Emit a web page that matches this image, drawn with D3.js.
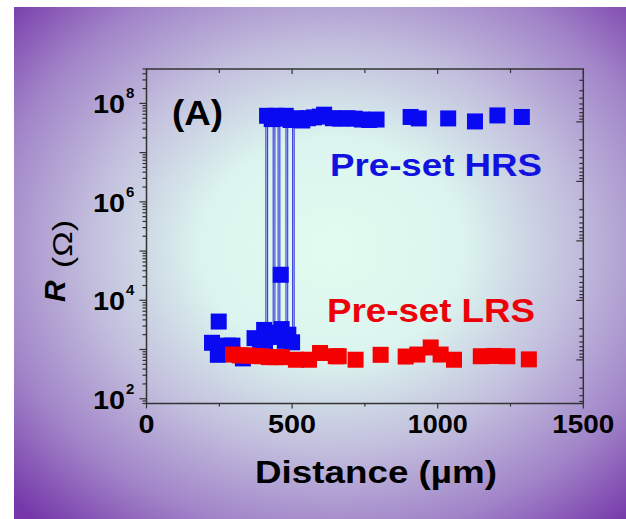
<!DOCTYPE html>
<html><head><meta charset="utf-8">
<script src="https://cdn.jsdelivr.net/npm/d3@7"></script>
<style>html,body{margin:0;padding:0;background:#fff;} svg{display:block;}</style>
</head><body>
<svg id="chart" width="626" height="519"></svg>
<script>
// ---- data (distance in µm, resistance in Ω) ----
const hrsDistance   = [414, 430, 445, 460, 478, 495, 515, 535, 555, 575, 595, 610, 640, 665, 690, 715, 740, 765, 790,
                       907, 935, 1036, 1128, 1205, 1289,
                       248, 225, 245, 280, 295, 331, 371, 390, 404, 407, 420, 440, 464, 475, 487, 500, 461];
const hrsResistance = [5.6e7, 4.8e7, 5.6e7, 4.9e7, 5.6e7, 4.6e7, 5.0e7, 4.5e7, 5.0e7, 5.2e7, 5.4e7, 5.9e7, 5.0e7, 4.9e7, 5.0e7, 4.9e7, 4.7e7, 4.6e7, 4.7e7,
                       5.3e7, 4.95e7, 4.95e7, 4.3e7, 5.7e7, 5.3e7,
                       3.7e3, 1.37e3, 7.8e2, 1.2e3, 1.2e3, 6.6e2, 1.7e3, 1.5e3, 2.5e3, 1.1e3, 2.2e3, 1.8e3, 2.6e3, 1.5e3, 2.0e3, 1.4e3, 3.3e4];
const lrsDistance   = [297, 320, 345, 370, 395, 420, 445, 465, 513, 558, 596, 650, 660, 718, 804, 890, 930, 976, 1010, 1056, 1148, 1193, 1239, 1313];
const lrsResistance = [7.9e2, 7.6e2, 7.6e2, 7.4e2, 7.3e2, 7.0e2, 7.0e2, 7.0e2, 6.2e2, 6.2e2, 8.5e2, 7.3e2, 7.3e2, 6.2e2, 7.8e2, 7.2e2, 7.9e2, 1.1e3, 7.9e2, 6.2e2, 7.3e2, 7.4e2, 7.3e2, 6.3e2];
// thin switching traces of the HRS series
const switchDistance = [410, 416, 435, 441, 452, 458, 479, 485, 502, 507];
const switchTop      = [5.5e7, 5.5e7, 5.0e7, 5.0e7, 5.5e7, 5.5e7, 5.0e7, 5.0e7, 5.0e7, 5.0e7];
const switchBottom   = [2.6e3, 2.6e3, 2.5e3, 2.5e3, 2.6e3, 2.6e3, 2.6e3, 2.6e3, 2.0e3, 2.0e3];

const xMajorTicks = [0, 500, 1000, 1500];
const xMinorTicks = [250, 750, 1250];
const xTickLabels = ["0", "500", "1000", "1500"];
const xLabelWidths = [16, 48, 60, 62];
const yLabelExponents = [2, 4, 6, 8];

const hrsColor = "#0a0af2", lrsColor = "#f40000";

// ---- setup ----
const svg = d3.select("#chart");
const defs = svg.append("defs");
const grad = defs.append("radialGradient").attr("id", "bg")
  .attr("cx", 0.52).attr("cy", 0.47).attr("r", 0.72).attr("fx", 0.52).attr("fy", 0.47);
[[0, "#e3fcf0"], [0.3, "#dbf4ee"], [0.55, "#c2bedd"], [0.78, "#a184c8"], [1, "#7537a9"]]
  .forEach(([o, c]) => grad.append("stop").attr("offset", o).attr("stop-color", c));

svg.append("rect").attr("x", 14).attr("y", 7).attr("width", 612).attr("height", 512).attr("fill", "url(#bg)");

const L = 146.5, R = 583.3, T = 69, B = 403.5;
const x = d3.scaleLinear().domain([0, 1500]).range([L, R]);
const y = d3.scaleLog().domain([80, 5e8]).range([B, T]);
// right-hand mirror axis (its own log tick spacing)
const yRight = d3.scaleLog().domain([Math.pow(10, -0.889), Math.pow(10, 4.733)]).range([T, B]);

const axisColor = "#333";
const font = "'Liberation Sans', Arial, sans-serif";

// ---- ticks ----
const tg = svg.append("g").attr("stroke", axisColor).attr("stroke-width", 1.2);
xMajorTicks.forEach(v => tg.append("line").attr("x1", x(v)).attr("x2", x(v)).attr("y1", B).attr("y2", B + 5));
xMinorTicks.forEach(v => tg.append("line").attr("x1", x(v)).attr("x2", x(v)).attr("y1", B).attr("y2", B + 3));
xMajorTicks.forEach(v => tg.append("line").attr("x1", x(v)).attr("x2", x(v)).attr("y1", T).attr("y2", T + 5));
xMinorTicks.forEach(v => tg.append("line").attr("x1", x(v)).attr("x2", x(v)).attr("y1", T).attr("y2", T + 4));
y.ticks(60).forEach(v => {
  const yy = y(v); if (yy < T - 0.5 || yy > B + 0.5) return;
  const m = Math.round(v / Math.pow(10, Math.floor(Math.log10(v) + 1e-9)));
  tg.append("line").attr("x1", L).attr("x2", L - (m === 1 ? 7 : 4)).attr("y1", yy).attr("y2", yy);
});
yRight.ticks(60).forEach(v => {
  const yy = yRight(v); if (yy < T - 0.5 || yy > B + 0.5) return;
  const m = Math.round(v / Math.pow(10, Math.floor(Math.log10(v) + 1e-9)));
  tg.append("line").attr("x1", R).attr("x2", R - (m === 1 ? 7 : 4)).attr("y1", yy).attr("y2", yy);
});

// ---- frame ----
svg.append("rect").attr("x", L).attr("y", T).attr("width", R - L).attr("height", B - T)
  .attr("fill", "none").attr("stroke", axisColor).attr("stroke-width", 1.5);

// ---- switching traces ----
const line = d3.line().x(d => x(d[0])).y(d => y(d[1]));
svg.append("g").selectAll("path").data(switchDistance.map((d, i) => [[d, switchTop[i]], [d, switchBottom[i]]]))
  .join("path").attr("d", line).attr("fill", "none").attr("stroke", "#2424dc").attr("stroke-width", 1);

// ---- markers ----
const S = 16;
svg.append("g").selectAll("rect").data(hrsDistance.map((d, i) => [d, hrsResistance[i]]))
  .join("rect").attr("x", d => x(d[0]) - S / 2).attr("y", d => y(d[1]) - S / 2)
  .attr("width", S).attr("height", S).attr("fill", hrsColor);
svg.append("g").selectAll("rect").data(lrsDistance.map((d, i) => [d, lrsResistance[i]]))
  .join("rect").attr("x", d => x(d[0]) - S / 2).attr("y", d => y(d[1]) - S / 2)
  .attr("width", S).attr("height", S).attr("fill", lrsColor);

// ---- tick labels ----
const lg = svg.append("g").attr("font-family", font).attr("font-weight", "bold").attr("fill", "#000");
xMajorTicks.forEach((v, i) => {
  lg.append("text").attr("x", x(v)).attr("y", 433).attr("text-anchor", "middle")
    .attr("font-size", 25).attr("textLength", xLabelWidths[i]).attr("lengthAdjust", "spacingAndGlyphs")
    .text(xTickLabels[i]);
});
yLabelExponents.forEach(e => {
  const yy = y(Math.pow(10, e));
  lg.append("text").attr("x", 93).attr("y", yy + 10).attr("font-size", 25)
    .attr("textLength", 32).attr("lengthAdjust", "spacingAndGlyphs").text("10");
  lg.append("text").attr("x", 126).attr("y", yy - 5).attr("font-size", 15).text(String(e));
});

// ---- axis titles ----
lg.append("text").attr("x", 255).attr("y", 483).attr("font-size", 31)
  .attr("textLength", 242).attr("lengthAdjust", "spacingAndGlyphs").text("Distance (µm)");
const yt = svg.append("g").attr("transform", "translate(65,302) rotate(-90)").attr("font-family", font);
yt.append("text").attr("x", 0).attr("y", 0).attr("font-size", 30).attr("font-weight", "bold")
  .attr("font-style", "italic").text("R");
yt.append("text").attr("x", 34).attr("y", 7).attr("font-size", 28)
  .attr("textLength", 48).attr("lengthAdjust", "spacingAndGlyphs").text("(Ω)");

// ---- annotations ----
lg.append("text").attr("x", 172).attr("y", 125).attr("font-size", 35)
  .attr("textLength", 51).attr("lengthAdjust", "spacingAndGlyphs").text("(A)");
lg.append("text").attr("x", 330).attr("y", 176).attr("font-size", 32).attr("fill", "#1212e0")
  .attr("textLength", 212).attr("lengthAdjust", "spacingAndGlyphs").text("Pre-set HRS");
lg.append("text").attr("x", 327).attr("y", 322).attr("font-size", 33).attr("fill", "#ee0008")
  .attr("textLength", 208).attr("lengthAdjust", "spacingAndGlyphs").text("Pre-set LRS");
</script>
</body></html>
